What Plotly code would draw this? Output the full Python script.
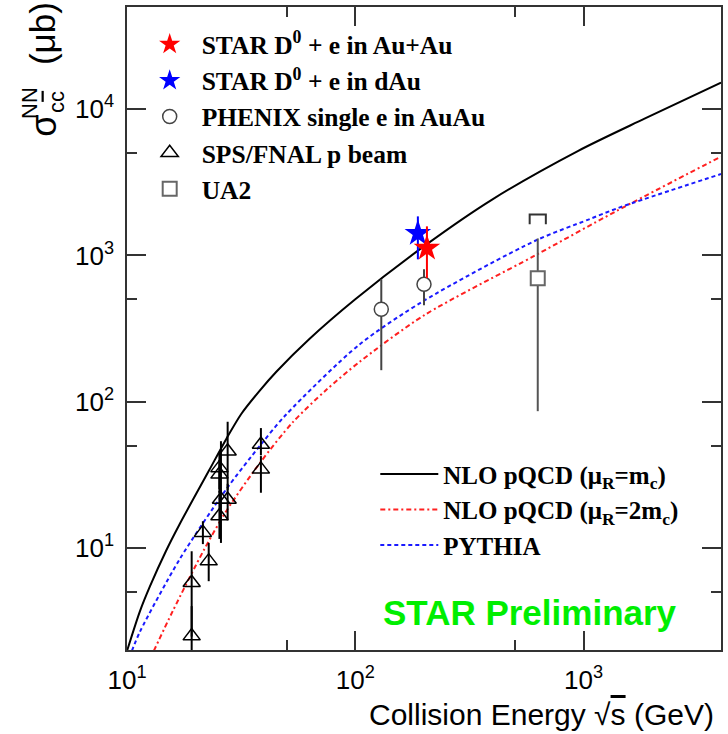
import math
import plotly.graph_objects as go

# ---------------- data ----------------
# theory curves (sqrt(s) in GeV, sigma in microbarn)
nlo_mc_x = [10, 11.4, 12.6, 14.8, 17.0, 22.9, 27.3, 31.6, 38.0, 45.1, 63.1, 100, 203, 396, 948, 1850, 4000]
nlo_mc_y = [1.97, 3.69, 5.44, 9.48, 14.5, 33.9, 56.0, 82.0, 118, 160, 269, 501, 1175, 2400, 5190, 8610, 15200]

nlo_2mc_x = [13.1, 15.9, 21.8, 27.2, 38.2, 53.3, 74.5, 104, 200, 614, 1380, 4000]
nlo_2mc_y = [1.97, 3.72, 9.77, 17.8, 38.0, 72.4, 120, 186, 389, 1000, 1995, 4740]

pythia_x = [10.5, 11.4, 17.0, 27.2, 38.6, 49.7, 104, 200, 614, 1050, 1416, 4000]
pythia_y = [1.97, 2.67, 8.34, 25.1, 50.9, 81.3, 245, 490, 1259, 1758, 2109, 3600]

# measurements
star_auau_x = [206]
star_auau_y = [1120]
star_auau_up = [460]
star_auau_dn = [420]

star_dau_x = [188]
star_dau_y = [1416]
star_dau_up = [433]
star_dau_dn = [476]

phenix_x = [130, 200]
phenix_y = [428, 634]
phenix_up = [259, 169]
phenix_dn = [264, 178]

sps_x = [19.2, 19.2, 21.5, 22.8, 25.4, 25.4, 25.8, 25.4, 27.6, 27.6, 38.6, 38.6]
sps_y = [2.49, 5.77, 12.7, 8.11, 16.5, 31.8, 21.4, 35.2, 21.4, 45.8, 34.4, 50.9]
sps_up = [1.5, 3.7, 2.5, 2.7, 8, 8, 32.2, 10, 6, 27, 8, 15]
sps_dn = [1.0, 3.3, 2.1, 2.2, 5, 8, 10.6, 10, 6, 21, 10.6, 8]

ua2_x = [630]
ua2_y = [697]
ua2_up = [609]
ua2_dn = [611]
ua2_bracket_top = 1905
ua2_bracket_low = 1630

# axis ticks
x_tickvals = [10, 100, 1000]
x_ticktext = ["10<sup>1</sup>", "10<sup>2</sup>", "10<sup>3</sup>"]
x_minor = [50, 500]
y_tickvals = [10, 100, 1000, 10000]
y_ticktext = ["10<sup>1</sup>", "10<sup>2</sup>", "10<sup>3</sup>", "10<sup>4</sup>"]
y_minor = [5, 50, 500, 5000]

# ---------------- figure ----------------
SANS = "Liberation Sans, Arial, sans-serif"
SERIF = "Liberation Serif, Times New Roman, serif"
AX = "#333333"

fig = go.Figure()

# theory curves (legend2)
fig.add_trace(go.Scatter(x=nlo_mc_x, y=nlo_mc_y, mode="lines",
                         line=dict(color="black", width=2, shape="spline", smoothing=0.8),
                         name="<b>NLO pQCD (μ<sub>R</sub>=m<sub>c</sub>)</b>", legend="legend2"))
fig.add_trace(go.Scatter(x=nlo_2mc_x, y=nlo_2mc_y, mode="lines",
                         line=dict(color="#ff2020", width=2, dash="5px,3px,2px,3px",
                                   shape="spline", smoothing=0.8),
                         name="<b>NLO pQCD (μ<sub>R</sub>=2m<sub>c</sub>)</b>", legend="legend2"))
fig.add_trace(go.Scatter(x=pythia_x, y=pythia_y, mode="lines",
                         line=dict(color="#1a1aff", width=2, dash="4px,3px",
                                   shape="spline", smoothing=0.8),
                         name="<b>PYTHIA</b>", legend="legend2"))

# UA2 bracket (systematic marker) derived from data values
bw = 1.085
fig.add_trace(go.Scatter(x=[ua2_x[0] / bw, ua2_x[0] / bw, ua2_x[0] * bw, ua2_x[0] * bw],
                         y=[ua2_bracket_low, ua2_bracket_top, ua2_bracket_top, ua2_bracket_low],
                         mode="lines", line=dict(color="#333333", width=2),
                         showlegend=False, hoverinfo="skip"))


def eb(up, dn, color):
    return dict(type="data", symmetric=False, array=up, arrayminus=dn,
                color=color, thickness=2, width=0)


fig.add_trace(go.Scatter(x=sps_x, y=sps_y, mode="markers",
                         marker=dict(symbol="triangle-up-open", size=15, color="black",
                                     line=dict(width=1.5, color="black")),
                         error_y=eb(sps_up, sps_dn, "black"),
                         name="<b>SPS/FNAL p beam</b>", legend="legend", legendrank=4))
fig.add_trace(go.Scatter(x=ua2_x, y=ua2_y, mode="markers",
                         marker=dict(symbol="square", size=14, color="white",
                                     line=dict(width=2, color="#666666")),
                         error_y=eb(ua2_up, ua2_dn, "#555555"),
                         name="<b>UA2</b>", legend="legend", legendrank=5))
fig.add_trace(go.Scatter(x=phenix_x, y=phenix_y, mode="markers",
                         marker=dict(symbol="circle", size=14, color="white",
                                     line=dict(width=1.5, color="#444444")),
                         error_y=eb(phenix_up, phenix_dn, "#444444"),
                         name="<b>PHENIX single e in AuAu</b>", legend="legend", legendrank=3))
fig.add_trace(go.Scatter(x=star_dau_x, y=star_dau_y, mode="markers",
                         marker=dict(symbol="star", size=20, color="#0000ff",
                                     line=dict(width=0)),
                         error_y=eb(star_dau_up, star_dau_dn, "#0000ff"),
                         name="<b>STAR D<sup>0</sup> + e in dAu</b>", legend="legend", legendrank=2))
fig.add_trace(go.Scatter(x=star_auau_x, y=star_auau_y, mode="markers",
                         marker=dict(symbol="star", size=20, color="#ff0000",
                                     line=dict(width=0)),
                         error_y=eb(star_auau_up, star_auau_dn, "#ff0000"),
                         name="<b>STAR D<sup>0</sup> + e in Au+Au</b>", legend="legend", legendrank=1))

axis_common = dict(type="log", showgrid=False, zeroline=False, showline=True,
                   linecolor=AX, linewidth=1.5, mirror="ticks", ticks="inside",
                   ticklen=19, tickwidth=1.5, tickcolor=AX,
                   tickfont=dict(family=SANS, size=26, color="black"))

fig.update_xaxes(range=[1, math.log10(4000)], tickmode="array", tickvals=x_tickvals,
                 ticktext=x_ticktext, ticklabelstandoff=6,
                 minor=dict(tickvals=x_minor, ticks="inside", ticklen=10, tickwidth=1.5,
                            tickcolor=AX),
                 **axis_common)
fig.update_yaxes(range=[math.log10(2), math.log10(50000)], tickmode="array",
                 tickvals=y_tickvals, ticktext=y_ticktext, ticklabelstandoff=6,
                 minor=dict(tickvals=y_minor, ticks="inside", ticklen=10, tickwidth=1.5,
                            tickcolor=AX),
                 **axis_common)

fig.update_layout(
    width=728, height=734,
    margin=dict(l=127, r=5, t=6, b=84),
    plot_bgcolor="white", paper_bgcolor="white",
    showlegend=True,
    legend=dict(x=0.018, y=0.978, xanchor="left", yanchor="top",
                bgcolor="rgba(0,0,0,0)", borderwidth=0, itemwidth=54,
                font=dict(family=SERIF, size=25.5, color="black"),
                traceorder="normal"),
    legend2=dict(x=0.418, y=0.309, xanchor="left", yanchor="top",
                 bgcolor="rgba(0,0,0,0)", borderwidth=0, itemwidth=58,
                 font=dict(family=SERIF, size=25, color="black")),
    annotations=[
        dict(text="STAR Preliminary", x=0.428, y=0.059, xref="paper", yref="paper",
             xanchor="left", yanchor="middle", showarrow=False,
             font=dict(family=SANS, size=35, color="#00ee00", weight="bold")),
        dict(text="Collision Energy √<span style='text-decoration:overline'>s</span> (GeV)",
             x=0.992, y=-0.101, xref="paper", yref="paper",
             xanchor="right", yanchor="middle", showarrow=False,
             font=dict(family=SANS, size=30, color="black")),
        dict(text="σ", x=-0.140, y=0.815, xref="paper", yref="paper", textangle=-90,
             xanchor="center", yanchor="middle", showarrow=False,
             font=dict(family=SANS, size=36, color="black")),
        dict(text="NN", x=-0.163, y=0.851, xref="paper", yref="paper", textangle=-90,
             xanchor="center", yanchor="middle", showarrow=False,
             font=dict(family=SANS, size=22, color="black")),
        dict(text="c<span style='text-decoration:overline'>c</span>", x=-0.120, y=0.852,
             xref="paper", yref="paper", textangle=-90,
             xanchor="center", yanchor="middle", showarrow=False,
             font=dict(family=SANS, size=22, color="black")),
        dict(text="(μb)", x=-0.143, y=0.958, xref="paper", yref="paper", textangle=-90,
             xanchor="center", yanchor="middle", showarrow=False,
             font=dict(family=SANS, size=35, color="black")),
    ],
)

fig.write_html("out.html")
